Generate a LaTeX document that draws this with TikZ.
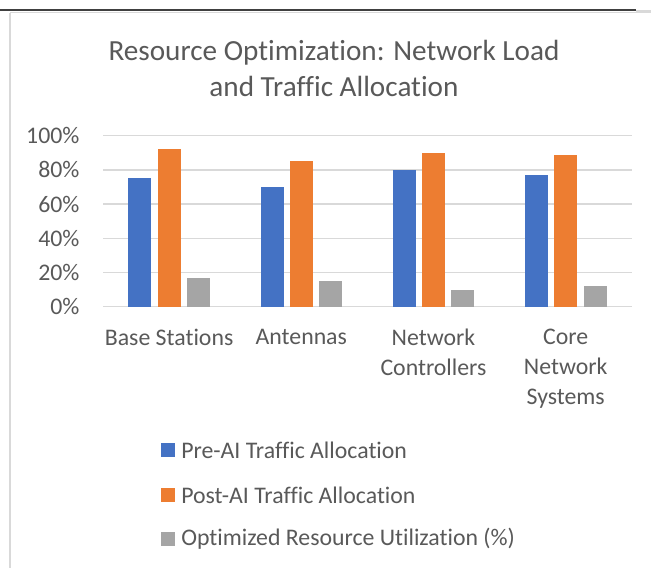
\documentclass[tikz,border=0pt]{standalone}
\usepackage{fontspec}
\setmainfont{Carlito}[Ligatures={NoCommon,NoContextual}]
\usepackage{tikz}
\usetikzlibrary{positioning}
\definecolor{XLBlue}{HTML}{4472C4}
\definecolor{XLOrange}{HTML}{ED7D31}
\definecolor{XLGrey}{HTML}{A5A5A5}
\definecolor{XLText}{HTML}{595959}
\definecolor{XLGrid}{HTML}{D9D9D9}
\tikzset{
  charttitle/.style={font=\fontsize{21.9}{27}\selectfont, text=XLText, align=center, inner sep=0pt},
  ticklabel/.style={font=\fontsize{17.85}{22.5}\selectfont, text=XLText, anchor=east, inner sep=1pt},
  catlabel/.style={font=\fontsize{17.85}{22.5}\selectfont, text=XLText, align=center, anchor=north, inner sep=0pt},
  legendtext/.style={font=\fontsize{17.85}{22.5}\selectfont, text=XLText, anchor=west, inner sep=0pt},
  gridline/.style={draw=XLGrid, line width=1.1pt},
  bar/.style={fill=#1, draw=none},
}

\begin{document}
\begin{tikzpicture}[x=0.75pt, y=-0.75pt]
\useasboundingbox (0,0) rectangle (651,568);

% Frame
\draw[line width=1.5pt, black!75] (0,9.5) -- (636,9.5);
\draw[line width=0.8pt, XLGrid] (636,11) -- (651,11);
\draw[line width=1.1pt, XLGrid] (10,12.5) -- (651,12.5);
\draw[line width=1.1pt, XLGrid] (10,12.5) -- (10,568);

% Title
\node[charttitle] (title) at (334,68) {Resource Optimization: Network Load\\and Traffic Allocation};

% Grid and axis labels
\foreach \v in {0,20,...,100} {
  \draw[gridline] (103,306.7-1.71*\v) -- (631.7,306.7-1.71*\v);
  \node[ticklabel] (tick\v) at (81,306.7-1.71*\v) {\v\%};
}

% Bars
\foreach \i/\pre/\post/\opt in {0/75/92/17, 1/70/85/15, 2/80/90/10, 3/77/89/12} {
  \pgfmathsetmacro{\c}{103+132.2*(\i+0.5)}
  \fill[bar=XLBlue]   (\c-29.3-11.5,306.7) rectangle (\c-29.3+11.5,306.7-1.71*\pre);
  \fill[bar=XLOrange] (\c-11.5,306.7) rectangle (\c+11.5,306.7-1.71*\post);
  \fill[bar=XLGrey]   (\c+29.3-11.5,306.7) rectangle (\c+29.3+11.5,306.7-1.71*\opt);
}

% Categories
\node[catlabel] (cat1) at (169.1,329) {Base Stations};
\node[catlabel] (cat2) at (301.3,329) {Antennas};
\node[catlabel] (cat3) at (433.5,329) {Network\\Controllers};
\node[catlabel] (cat4) at (565.7,329) {Core\\Network\\Systems};

% Legend
\fill[XLBlue]   (161,443) rectangle (175,457);
\node[legendtext] (leg1) at (181,450) {Pre-AI Traffic Allocation};
\fill[XLOrange] (161,488) rectangle (175,502);
\node[legendtext] (leg2) at (181,495) {Post-AI Traffic Allocation};
\fill[XLGrey]   (161,532) rectangle (175,546);
\node[legendtext] (leg3) at (181,539) {Optimized Resource Utilization (\%)};
\end{tikzpicture}
\end{document}
